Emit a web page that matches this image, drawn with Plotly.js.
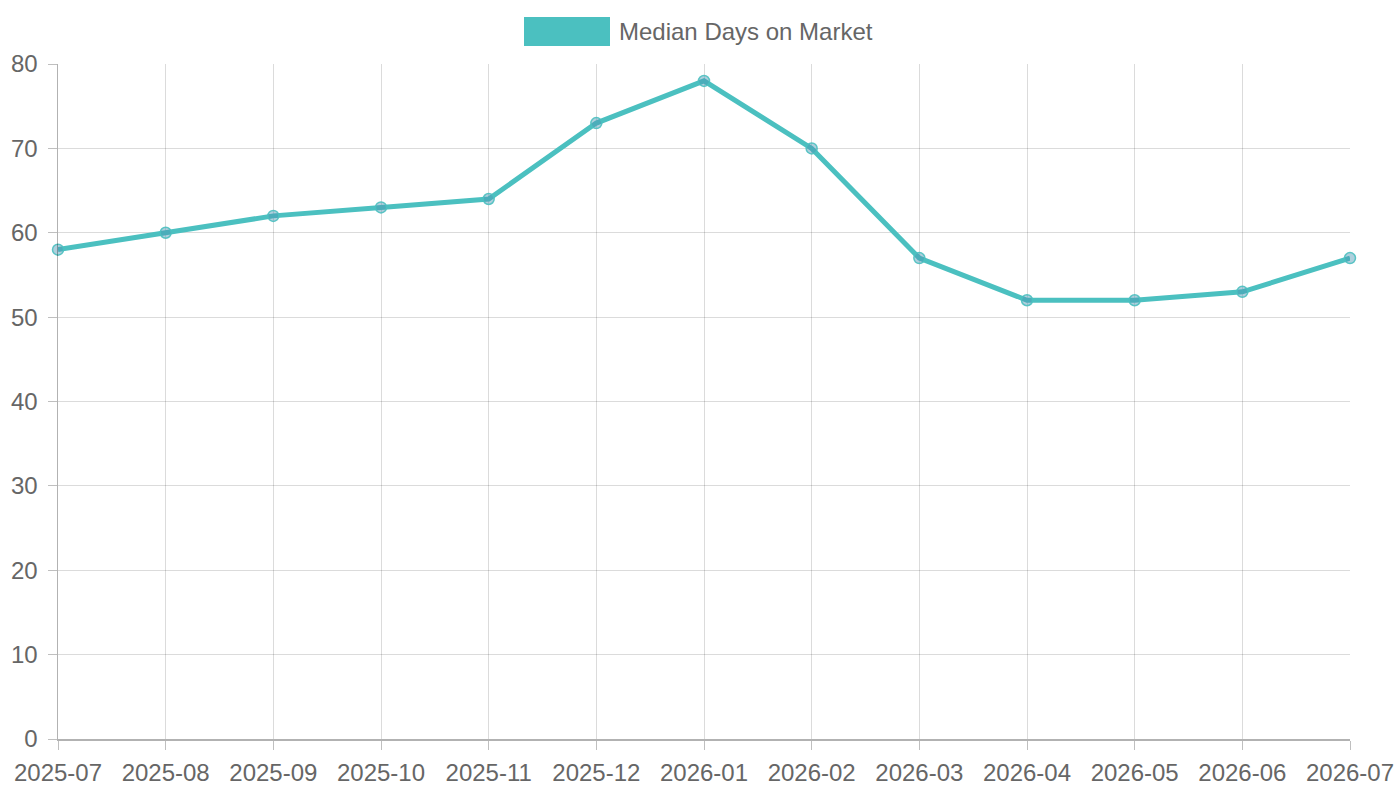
<!DOCTYPE html>
<html>
<head>
<meta charset="utf-8">
<script src="https://cdn.plot.ly/plotly-3.0.1.min.js"></script>
<style>
  html, body { margin: 0; padding: 0; background: #fff; }
  #chart { width: 1400px; height: 800px; }
</style>
</head>
<body>
<div id="chart"></div>
<script>
var months = ['2025-07', '2025-08', '2025-09', '2025-10', '2025-11', '2025-12',
              '2026-01', '2026-02', '2026-03', '2026-04', '2026-05', '2026-06', '2026-07'];
var medianDays = [58, 60, 62, 63, 64, 73, 78, 70, 57, 52, 52, 53, 57];
var seriesName = 'Median Days on Market';

var teal = 'rgb(75,192,192)';
var fontFam = '"Liberation Sans", Arial, sans-serif';

var trace = {
  x: months,
  y: medianDays,
  name: seriesName,
  type: 'scatter',
  mode: 'lines+markers',
  line: { color: teal, width: 5 },
  marker: {
    size: 11,
    color: 'rgba(75,150,180,0.45)',
    line: { color: 'rgba(75,192,192,0.9)', width: 1.5 }
  },
  cliponaxis: false,
  showlegend: false
};

var layout = {
  width: 1400,
  height: 800,
  margin: { l: 58, r: 50, t: 64, b: 61 },
  paper_bgcolor: '#fff',
  plot_bgcolor: '#fff',
  font: { family: fontFam, color: '#666', size: 24 },
  showlegend: false,
  xaxis: {
    type: 'category',
    range: [0, months.length - 1],
    showgrid: true,
    gridcolor: 'rgba(0,0,0,0.14)',
    gridwidth: 1,
    showline: true,
    linecolor: 'rgba(0,0,0,0.3)',
    linewidth: 1.5,
    ticks: 'outside',
    ticklen: 9,
    tickcolor: 'rgba(0,0,0,0.25)',
    ticklabelstandoff: 3,
    tickfont: { size: 24, color: '#666', family: fontFam },
    zeroline: false,
    fixedrange: true
  },
  yaxis: {
    range: [0, 80],
    dtick: 10,
    showgrid: true,
    gridcolor: 'rgba(0,0,0,0.14)',
    gridwidth: 1,
    showline: true,
    linecolor: 'rgba(0,0,0,0.3)',
    linewidth: 1.5,
    ticks: 'outside',
    ticklen: 9,
    tickcolor: 'rgba(0,0,0,0.25)',
    ticklabelstandoff: 5,
    tickfont: { size: 24, color: '#666', family: fontFam },
    zeroline: false,
    fixedrange: true
  },
  shapes: [{
    type: 'rect', xref: 'paper', yref: 'paper',
    x0: (524 - 58) / 1292, x1: (610 - 58) / 1292,
    y0: 1 + (64 - 46) / 675, y1: 1 + (64 - 17) / 675,
    fillcolor: teal, line: { width: 0 }
  }],
  annotations: [{
    text: seriesName,
    xref: 'paper', yref: 'paper',
    x: (617 - 58) / 1292, y: 1 + (64 - 31.5) / 675,
    xanchor: 'left', yanchor: 'middle',
    showarrow: false,
    font: { size: 24, color: '#666', family: fontFam }
  }]
};

Plotly.newPlot('chart', [trace], layout, { displayModeBar: false, staticPlot: true });
</script>
</body>
</html>
